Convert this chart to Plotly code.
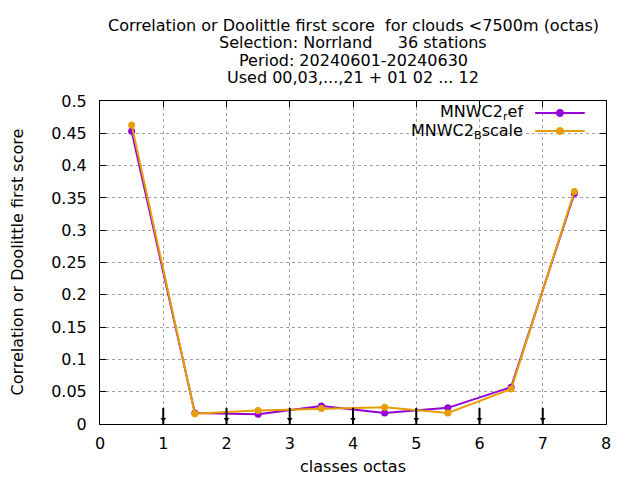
import plotly.graph_objects as go

# class centres (octas) and scores per experiment
classes = [0.5, 1.5, 2.5, 3.5, 4.5, 5.5, 6.5, 7.5]
score_ref = [0.453, 0.017, 0.015, 0.028, 0.017, 0.025, 0.057, 0.357]
score_bscale = [0.463, 0.016, 0.021, 0.024, 0.026, 0.017, 0.054, 0.360]
# class boundaries marked with small arrows at the bottom
boundaries = [1, 2, 3, 4, 5, 6, 7]
arrow_len = 0.025

title_lines = ['Correlation or Doolittle first score \u00a0for clouds <7500m (octas)',
               'Selection: Norrland \u00a0\u00a0\u00a0\u00a036 stations',
               'Period: 20240601-20240630',
               'Used 00,03,...,21 + 01 02 ... 12']

purple = '#9400D3'
orange = '#E69F00'
font = 'DejaVu Sans'
fs = 16

fig = go.Figure()
fig.add_scatter(x=classes, y=score_ref, mode='lines+markers', name='MNWC2_ref',
                line=dict(color=purple, width=2), marker=dict(color=purple, size=7),
                showlegend=False)
fig.add_scatter(x=classes, y=score_bscale, mode='lines+markers', name='MNWC2_Bscale',
                line=dict(color=orange, width=2), marker=dict(color=orange, size=7),
                showlegend=False)

# boundary arrows: shaft + small head
shaft_x, shaft_y = [], []
for b in boundaries:
    shaft_x += [b, b, None]
    shaft_y += [0, arrow_len, None]
fig.add_scatter(x=shaft_x, y=shaft_y, mode='lines', line=dict(color='black', width=2),
                showlegend=False, hoverinfo='skip')
fig.add_scatter(x=boundaries, y=[arrow_len * 0.3] * len(boundaries), mode='markers',
                marker=dict(symbol='triangle-down', color='black', size=5),
                showlegend=False, hoverinfo='skip')

# title, one annotation per line (gnuplot spacing)
for i, line in enumerate(title_lines):
    fig.add_annotation(x=0.5, y=1.235 - i * 0.0545, xref='paper', yref='paper', text=line,
                       showarrow=False, xanchor='center', yanchor='middle', font=dict(size=fs))

# axis titles
fig.add_annotation(x=-0.164, y=0.5, xref='paper', yref='paper', text='Correlation or Doolittle first score',
                   textangle=-90, showarrow=False, xanchor='center', yanchor='middle', font=dict(size=fs))
fig.add_annotation(x=0.5, y=-0.133, xref='paper', yref='paper', text='classes octas',
                   showarrow=False, xanchor='center', yanchor='middle', font=dict(size=fs))

# gnuplot-like key: text on the left, sample on the right
key = [('MNWC2<sub>r</sub>ef', purple, 0.963), ('MNWC2<sub>B</sub>scale', orange, 0.907)]
for txt, col, ky in key:
    fig.add_annotation(x=0.84, y=ky, xref='paper', yref='paper', text=txt, showarrow=False,
                       xanchor='right', yanchor='middle', font=dict(size=fs, color='black'))
    fig.add_shape(type='line', xref='paper', yref='paper', x0=0.86, x1=0.958, y0=ky, y1=ky,
                  line=dict(color=col, width=2))
    fig.add_shape(type='circle', xref='paper', yref='paper', x0=0.902, x1=0.916,
                  y0=ky - 0.011, y1=ky + 0.011, fillcolor=col, line=dict(color=col, width=1))

axis_style = dict(showline=True, linecolor='black', linewidth=1, mirror='ticks', ticks='inside',
                  ticklen=6, tickcolor='black', showgrid=True, gridcolor='#a0a0a0', griddash='dot',
                  gridwidth=1, zeroline=False, tickfont=dict(size=fs, color='black'),
                  automargin=False)

fig.update_xaxes(range=[0, 8], dtick=1, ticklabelstandoff=5, **axis_style)
fig.update_yaxes(range=[0, 0.5], dtick=0.05, ticklabelstandoff=9, **axis_style)

# page body has an 8px margin, so margins are shifted by 8px to line up with the window
fig.update_layout(
    width=640, height=480,
    font=dict(family=font, size=fs, color='black'),
    margin=dict(l=92, r=42, t=93, b=64),
    plot_bgcolor='white', paper_bgcolor='white',
)

fig.write_html('out.html')
